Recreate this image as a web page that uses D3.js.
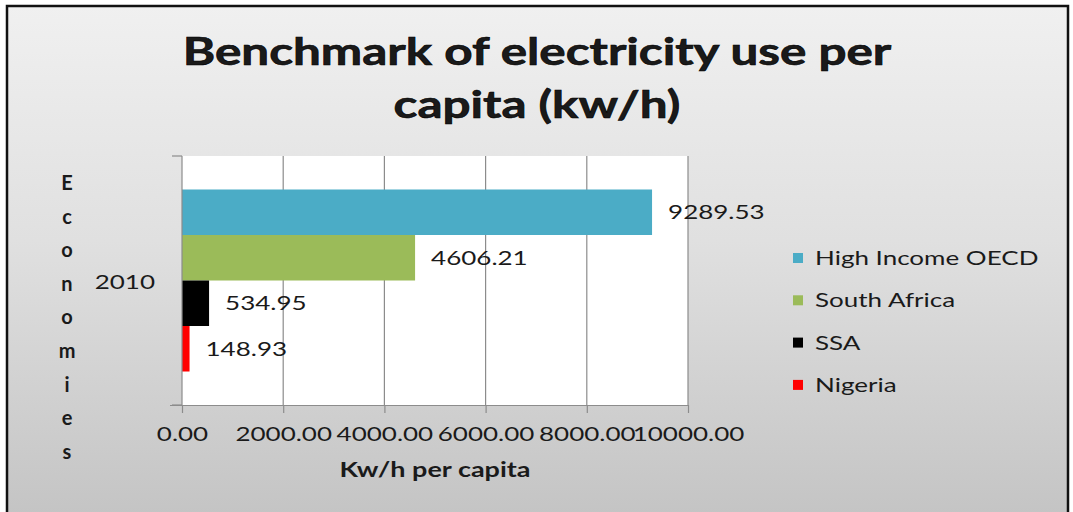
<!DOCTYPE html>
<html>
<head>
<meta charset="utf-8">
<script src="https://cdn.jsdelivr.net/npm/d3@7"></script>
<style>
  html, body { margin: 0; padding: 0; background: #ffffff; }
  svg { display: block; }
  text { font-family: Lato, "Open Sans", sans-serif; fill: #1a1a1a; }
</style>
</head>
<body>
<svg id="chart" width="1073" height="512"></svg>
<script>
// ---- data ----
const categories = ["2010"];
const seriesNames = ["High Income OECD", "South Africa", "SSA", "Nigeria"];
const seriesValues = [9289.53, 4606.21, 534.95, 148.93];
const seriesColors = ["#4bacc6", "#9bbb59", "#000000", "#ff0000"];
const xTicks = [0, 2000, 4000, 6000, 8000, 10000];
const titleLines = ["Benchmark of electricity use per", "capita (kw/h)"];
const xTitle = "Kw/h per capita";
const yTitle = "Economies";

// ---- layout ----
const W = 1073, H = 512;
const plot = { left: 182, right: 688, top: 156, bottom: 405 };
const STRETCH = 1.3; // horizontal stretch of the reference's text

const svg = d3.select("#chart");
const defs = svg.append("defs");
const grad = defs.append("linearGradient").attr("id", "bg")
  .attr("x1", 0).attr("y1", 0).attr("x2", 0).attr("y2", 1);
grad.append("stop").attr("offset", "0%").attr("stop-color", "#f0f0f0");
grad.append("stop").attr("offset", "45%").attr("stop-color", "#e0e0e0");
grad.append("stop").attr("offset", "100%").attr("stop-color", "#c3c3c3");

svg.append("rect").attr("x", 0).attr("y", 0).attr("width", W).attr("height", H).attr("fill", "#ffffff");
svg.append("rect").attr("x", 7).attr("y", 6).attr("width", 1061).attr("height", 520)
  .attr("fill", "url(#bg)").attr("stroke", "#111").attr("stroke-width", 2.5);

function stretch(sel, k) {
  sel.each(function () {
    const len = this.getComputedTextLength();
    d3.select(this).attr("textLength", len * k).attr("lengthAdjust", "spacingAndGlyphs");
  });
}

// ---- scales ----
const x = d3.scaleLinear().domain([0, 10000]).range([plot.left, plot.right]);
const yCat = d3.scaleBand().domain(categories).range([plot.top, plot.bottom]).paddingOuter(0.184).paddingInner(0);
const ySer = d3.scaleBand().domain(seriesNames).range([0, yCat.bandwidth()]).padding(0);

// plot area
svg.append("rect").attr("x", plot.left).attr("y", plot.top)
  .attr("width", plot.right - plot.left).attr("height", plot.bottom - plot.top).attr("fill", "#ffffff");

// gridlines
svg.append("g").selectAll("line").data(xTicks.filter(d => d > 0)).join("line")
  .attr("x1", d => x(d)).attr("x2", d => x(d))
  .attr("y1", plot.top).attr("y2", plot.bottom)
  .attr("stroke", "#8c8c8c").attr("stroke-width", 1.2);

// bars
const g = svg.append("g").attr("transform", `translate(0,${yCat(categories[0])})`);
g.selectAll("rect").data(seriesNames).join("rect")
  .attr("x", x(0))
  .attr("y", d => ySer(d))
  .attr("width", (d, i) => x(seriesValues[i]) - x(0))
  .attr("height", ySer.bandwidth())
  .attr("fill", (d, i) => seriesColors[i]);

// data labels
const dl = g.selectAll("text").data(seriesNames).join("text")
  .attr("x", (d, i) => x(seriesValues[i]) + 16)
  .attr("y", d => ySer(d) + ySer.bandwidth() / 2 + 7)
  .attr("font-size", 20)
  .text((d, i) => seriesValues[i].toFixed(2));
stretch(dl, STRETCH);

// x axis
const xAxis = d3.axisBottom(x).tickValues(xTicks).tickFormat(d3.format(".2f")).tickSize(8).tickPadding(14);
const xa = svg.append("g").attr("transform", `translate(0,${plot.bottom})`).call(xAxis);
xa.select(".domain").attr("stroke", "#8c8c8c").attr("stroke-width", 1.2).attr("d", `M${plot.left - 12},0.5H${plot.right}`);
xa.selectAll(".tick line").attr("stroke", "#8c8c8c").attr("stroke-width", 1.2);
const xt = xa.selectAll(".tick text").attr("font-size", 20).attr("font-family", "Lato, sans-serif").attr("fill", "#1a1a1a");
stretch(xt, STRETCH);

// y axis
const ya = svg.append("g").attr("transform", `translate(${plot.left},0)`);
ya.append("line").attr("x1", 0).attr("x2", 0).attr("y1", plot.top).attr("y2", plot.bottom)
  .attr("stroke", "#8c8c8c").attr("stroke-width", 1.2);
ya.selectAll("line.tk").data(yCat.range()).join("line").attr("class", "tk")
  .attr("x1", -10).attr("x2", 0).attr("y1", d => d).attr("y2", d => d)
  .attr("stroke", "#8c8c8c").attr("stroke-width", 1.2);
const yl = ya.selectAll("text").data(categories).join("text")
  .attr("x", -27).attr("y", d => yCat(d) + yCat.bandwidth() / 2 + 8)
  .attr("text-anchor", "end").attr("font-size", 20).text(d => d);
stretch(yl, STRETCH);

// title
const tt = svg.append("g").selectAll("text").data(titleLines).join("text")
  .attr("x", 537).attr("y", (d, i) => 65 + i * 53)
  .attr("text-anchor", "middle").attr("font-size", 38).attr("font-weight", 700)
  .attr("fill", "#000").attr("stroke", "#000").attr("stroke-width", 0.6).text(d => d);
stretch(tt, STRETCH);

// x title
const xtt = svg.append("text").attr("x", (plot.left + plot.right) / 2).attr("y", 477)
  .attr("text-anchor", "middle").attr("font-size", 20).attr("font-weight", 700).attr("fill", "#000")
  .text(xTitle);
stretch(xtt, 1.35);

// y title, stacked letters
svg.append("g").selectAll("text").data(yTitle.split("")).join("text")
  .attr("x", 67).attr("y", (d, i) => 190 + i * 33.6)
  .attr("text-anchor", "middle").attr("font-size", 20).attr("font-weight", 700).attr("fill", "#000")
  .text(d => d);

// legend
const lg = svg.append("g").selectAll("g").data(seriesNames).join("g")
  .attr("transform", (d, i) => `translate(793,${258 + i * 42.3})`);
lg.append("rect").attr("x", 0).attr("y", -5).attr("width", 10).attr("height", 10)
  .attr("fill", (d, i) => seriesColors[i]);
const lt = lg.append("text").attr("x", 22).attr("y", 7).attr("font-size", 20).text(d => d);
stretch(lt, STRETCH);
</script>
</body>
</html>
